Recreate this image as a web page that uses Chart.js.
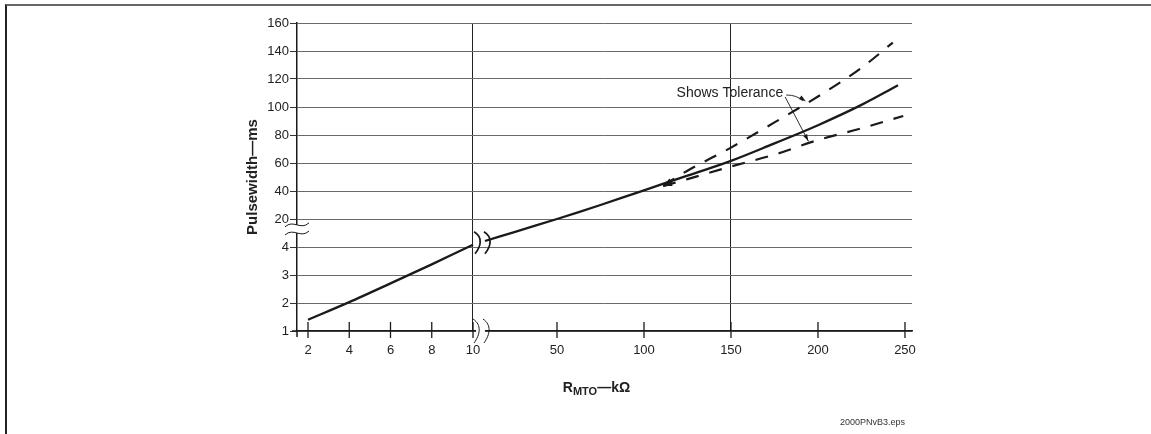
<!DOCTYPE html>
<html>
<head>
<meta charset="utf-8">
<title>Pulsewidth vs RMTO</title>
<script src="https://cdn.jsdelivr.net/npm/chart.js"></script>
<style>
  html, body { margin: 0; padding: 0; background: #fff; }
  body { width: 1151px; height: 434px; position: relative; overflow: hidden; }
  .frame {
    position: absolute; left: 5px; top: 4px; right: 0; bottom: 0;
    border-top: 2px solid #666; border-left: 2px solid #222;
  }
  canvas { position: absolute; left: 0; top: 0; }
</style>
</head>
<body>
<div class="frame"></div>
<canvas id="chart" width="1151" height="434"></canvas>
<script>
// values. "low" = below the axis breaks, "high" = above them
const lowR = [2, 4, 6, 8, 10];
const lowMs = [1.4, 2.03, 2.7, 3.38, 4.08];
const highR = [8.6, 25, 50, 75, 100, 125, 150, 175, 200, 225, 246];
const highMs = [4.3, 10.5, 20, 30, 40.5, 51, 61.5, 74, 87, 101.5, 115.5];
const tolUpperR = [111, 125, 150, 175, 200, 225, 243];
const tolUpperMs = [44, 54.5, 71, 89, 107.5, 128, 146];
const tolLowerR = [111, 125, 150, 175, 200, 225, 249];
const tolLowerMs = [43.5, 48.5, 57.5, 66, 76.4, 84.8, 93.6];

const xTicksLow = [2, 4, 6, 8, 10];
const xTicksHigh = [50, 100, 150, 200, 250];
const yTicksLow = [1, 2, 3, 4];
const yTicksHigh = [20, 40, 60, 80, 100, 120, 140, 160];
const xGridAt = [10, 150];

// broken axes: map each part onto one linear scale
const xLow = r => r;
const xHigh = r => 9.8545 + 0.08436 * r;
const yLow = v => v - 1;
const yHigh = v => 3 + v / 20;

const xTickPos = [...xTicksLow.map(xLow), ...xTicksHigh.map(xHigh)];
const xTickText = [...xTicksLow, ...xTicksHigh];
const yTickPos = [...yTicksLow.map(yLow), ...yTicksHigh.map(yHigh)];
const yTickText = [...yTicksLow, ...yTicksHigh];

const pts = (rs, ms, fx, fy) => rs.map((r, i) => ({ x: fx(r), y: fy(ms[i]) }));

const FONT = "'Liberation Sans', Arial, Helvetica, sans-serif";
const INK = '#1a1a1a';

function arrowHead(ctx, x, y, ang, len, half) {
  const c = Math.cos(ang), s = Math.sin(ang);
  ctx.beginPath();
  ctx.moveTo(x, y);
  ctx.lineTo(x - len * c + half * s, y - len * s - half * c);
  ctx.lineTo(x - len * c - half * s, y - len * s + half * c);
  ctx.closePath();
  ctx.fill();
}

function bracket(ctx, x, y, h) {
  ctx.beginPath();
  ctx.moveTo(x - 2, y - h);
  ctx.bezierCurveTo(x + 7, y - h * 0.5, x + 5, y + h * 0.3, x - 1, y + h);
  ctx.stroke();
}

function tilde(ctx, x, y, w) {
  ctx.beginPath();
  ctx.moveTo(x - w, y + 2);
  ctx.bezierCurveTo(x - w * 0.3, y - 6, x + w * 0.3, y + 6, x + w, y - 2);
  ctx.stroke();
}

const decorations = {
  id: 'decorations',
  afterDraw(chart) {
    const { ctx, scales: { x, y }, chartArea: a } = chart;
    ctx.save();
    ctx.strokeStyle = INK;
    ctx.fillStyle = INK;

    // axis extensions and tick marks crossing the x axis
    ctx.lineWidth = 1.5;
    ctx.beginPath();
    ctx.moveTo(a.left - 5, a.bottom); ctx.lineTo(a.left, a.bottom);
    ctx.moveTo(a.left, a.bottom); ctx.lineTo(a.left, a.bottom + 6);
    ctx.stroke();
    ctx.lineWidth = 1.3;
    xTickPos.forEach(v => {
      const px = x.getPixelForValue(v);
      ctx.beginPath();
      ctx.moveTo(px, a.bottom - 9); ctx.lineTo(px, a.bottom + 7);
      ctx.stroke();
    });

    // y axis break
    const yb1 = y.getPixelForValue(3.79), yb2 = y.getPixelForValue(3.5);
    ctx.fillStyle = '#fff';
    ctx.fillRect(a.left - 2, yb1, 4, yb2 - yb1);
    ctx.lineWidth = 1;
    tilde(ctx, a.left, yb1, 12);
    tilde(ctx, a.left, yb2, 12);

    // x axis break
    const xb1 = x.getPixelForValue(10.1), xb2 = x.getPixelForValue(10.58);
    ctx.fillRect(xb1 + 1, a.bottom - 2, xb2 - xb1 - 1, 4);
    bracket(ctx, xb1, a.bottom, 12);
    bracket(ctx, xb2, a.bottom, 12);

    // break in the curve
    const cy = y.getPixelForValue(3.15);
    ctx.lineWidth = 1.7;
    bracket(ctx, xb1 + 1, cy, 11);
    bracket(ctx, xb2 + 1, cy, 11);

    // arrowheads where the tolerance lines leave the curve
    ctx.fillStyle = INK;
    [2, 3].forEach(di => {
      const p = chart.getDatasetMeta(di).data;
      const ang = Math.atan2(p[0].y - p[1].y, p[0].x - p[1].x);
      arrowHead(ctx, p[0].x, p[0].y, ang, 9, 2.6);
    });

    // "Shows Tolerance" callout
    const tx = x.getPixelForValue(xHigh(180)), ty = y.getPixelForValue(yHigh(110));
    ctx.font = `14px ${FONT}`;
    ctx.textAlign = 'right';
    ctx.textBaseline = 'middle';
    ctx.fillStyle = '#222';
    ctx.fillText('Shows Tolerance', tx, ty);
    ctx.fillStyle = INK;
    ctx.lineWidth = 0.9;
    const t1x = x.getPixelForValue(xHigh(193)), t1y = y.getPixelForValue(yHigh(104));
    ctx.beginPath();
    ctx.moveTo(tx + 3, ty + 2);
    ctx.quadraticCurveTo(tx + 14, ty + 2, t1x - 3, t1y - 0.5);
    ctx.stroke();
    arrowHead(ctx, t1x, t1y, Math.atan2(t1y - ty - 2, t1x - tx - 14), 7, 2.2);
    const t2x = x.getPixelForValue(xHigh(194.5)), t2y = y.getPixelForValue(yHigh(75.5));
    ctx.beginPath();
    ctx.moveTo(tx + 2, ty + 4);
    ctx.lineTo(t2x, t2y);
    ctx.stroke();
    arrowHead(ctx, t2x, t2y, Math.atan2(t2y - ty - 4, t2x - tx - 2), 7, 2.2);

    // x axis title with subscript
    ctx.textAlign = 'left';
    ctx.textBaseline = 'alphabetic';
    const big = `bold 14px ${FONT}`, small = `bold 11px ${FONT}`;
    ctx.font = big; const wR = ctx.measureText('R').width;
    ctx.font = small; const wS = ctx.measureText('MTO').width;
    ctx.font = big; const wT = ctx.measureText('—kΩ').width;
    let cx = (a.left + a.right) / 2 - 8 - (wR + wS + wT) / 2;
    const base = a.bottom + 61;
    ctx.fillStyle = '#222';
    ctx.font = big; ctx.fillText('R', cx, base); cx += wR;
    ctx.font = small; ctx.fillText('MTO', cx, base + 3); cx += wS;
    ctx.font = big; ctx.fillText('—kΩ', cx, base);

    // file tag
    ctx.font = `9px ${FONT}`;
    ctx.textAlign = 'right';
    ctx.fillStyle = '#333';
    ctx.fillText('2000PNvB3.eps', a.right - 7, a.bottom + 94);
    ctx.restore();
  }
};

new Chart(document.getElementById('chart'), {
  type: 'scatter',
  data: {
    datasets: [
      { label: 'low', data: pts(lowR, lowMs, xLow, yLow),
        showLine: true, borderColor: INK, borderWidth: 2.3, pointRadius: 0, tension: 0.3 },
      { label: 'high', data: pts(highR, highMs, xHigh, yHigh),
        showLine: true, borderColor: INK, borderWidth: 2.3, pointRadius: 0, tension: 0.4 },
      { label: 'tol+', data: pts(tolUpperR, tolUpperMs, xHigh, yHigh),
        showLine: true, borderColor: INK, borderWidth: 2.2, borderDash: [13, 11], pointRadius: 0, cubicInterpolationMode: 'monotone' },
      { label: 'tol-', data: pts(tolLowerR, tolLowerMs, xHigh, yHigh),
        showLine: true, borderColor: INK, borderWidth: 2.2, borderDash: [13, 11], pointRadius: 0, cubicInterpolationMode: 'monotone' }
    ]
  },
  options: {
    responsive: false,
    animation: false,
    layout: { padding: { left: 244, right: 239, top: 23, bottom: 73 } },
    plugins: { legend: { display: false }, tooltip: { enabled: false } },
    scales: {
      x: {
        type: 'linear',
        min: 1.4667, max: 31.285,
        afterBuildTicks: s => { s.ticks = xTickPos.map(v => ({ value: v })); },
        afterFit: s => { s.height = 30; },
        ticks: {
          callback: (v, i) => xTickText[i],
          autoSkip: false, maxRotation: 0, padding: 12,
          color: '#222', font: { size: 13, family: FONT }
        },
        grid: {
          drawTicks: false, lineWidth: 1,
          color: c => xGridAt.includes(xTickText[c.index]) ? '#222' : 'rgba(0,0,0,0)'
        },
        border: { display: true, color: INK, width: 1.5 }
      },
      y: {
        type: 'linear',
        min: 0, max: 11,
        afterBuildTicks: s => { s.ticks = yTickPos.map(v => ({ value: v })); },
        afterFit: s => { s.width = 53; },
        ticks: {
          callback: (v, i) => yTickText[i],
          padding: 1, color: '#222', font: { size: 13, family: FONT }
        },
        grid: { color: '#6a6a6a', lineWidth: 1, tickLength: 7, tickColor: '#333' },
        border: { display: true, color: INK, width: 1.5 },
        title: {
          display: true, text: 'Pulsewidth—ms', color: '#222',
          font: { size: 15, weight: 'bold', family: FONT }, padding: 0
        }
      }
    }
  },
  plugins: [decorations]
});
</script>
</body>
</html>
